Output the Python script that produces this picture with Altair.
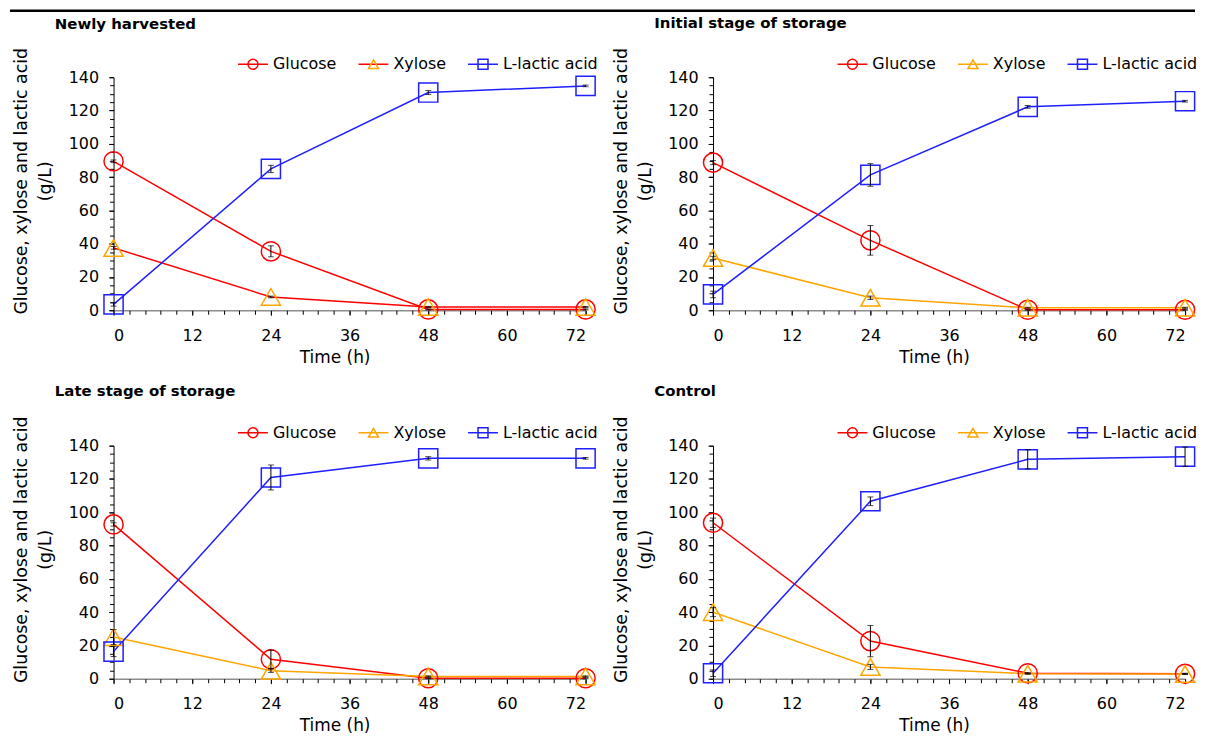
import altair as alt
import pandas as pd

FONT = "DejaVu Sans"

TIMES = [0, 24, 48, 72]
SERIES = ["Glucose", "Xylose", "L-lactic acid"]
MARKER_COLORS = ["#FF0000", "#FFA500", "#1F1FFF"]
MARKER_SHAPES = ["circle", "triangle-up", "square"]

X_MAJOR = [0, 12, 24, 36, 48, 60, 72]
Y_MAJOR = [0, 20, 40, 60, 80, 100, 120, 140]
X_MINOR = [round(i * 2.4, 1) for i in range(31)]
Y_MINOR = list(range(0, 141, 5))

# Newly harvested
NH_GLUCOSE = [89.5, 35.4, 0.5, 0.5]
NH_GLUCOSE_SD = [0.8, 3.3, 0.3, 0.3]
NH_XYLOSE = [37.5, 8.0, 2.0, 2.0]
NH_XYLOSE_SD = [0.8, 0.5, 0.3, 0.3]
NH_LACTIC = [3.5, 84.9, 130.8, 134.8]
NH_LACTIC_SD = [1.0, 2.2, 1.2, 0.5]

# Initial stage of storage
IS_GLUCOSE = [88.7, 42.0, 0.3, 0.3]
IS_GLUCOSE_SD = [1.2, 8.9, 0.3, 0.3]
IS_XYLOSE = [31.4, 7.5, 1.5, 1.5]
IS_XYLOSE_SD = [1.0, 1.0, 0.3, 0.3]
IS_LACTIC = [9.5, 81.3, 122.2, 125.6]
IS_LACTIC_SD = [2.0, 6.8, 0.8, 0.5]

# Late stage of storage
LS_GLUCOSE = [92.7, 11.7, 0.3, 0.3]
LS_GLUCOSE_SD = [1.0, 5.5, 0.3, 0.3]
LS_XYLOSE = [25.0, 4.8, 1.4, 1.4]
LS_XYLOSE_SD = [4.5, 1.0, 0.3, 0.3]
LS_LACTIC = [16.3, 120.9, 132.4, 132.4]
LS_LACTIC_SD = [3.0, 7.5, 1.0, 0.5]

# Control
CT_GLUCOSE = [93.7, 22.6, 3.3, 3.0]
CT_GLUCOSE_SD = [2.8, 9.4, 0.3, 0.3]
CT_XYLOSE = [40.0, 7.1, 3.0, 2.8]
CT_XYLOSE_SD = [2.7, 1.5, 0.3, 0.3]
CT_LACTIC = [3.3, 106.6, 131.8, 133.4]
CT_LACTIC_SD = [2.0, 2.6, 5.8, 5.8]

PANELS = [
    ("Newly harvested", NH_GLUCOSE, NH_GLUCOSE_SD, NH_XYLOSE, NH_XYLOSE_SD, NH_LACTIC, NH_LACTIC_SD,
     ["#FF0000", "#FF0000", "#1F1FFF"]),
    ("Initial stage of storage", IS_GLUCOSE, IS_GLUCOSE_SD, IS_XYLOSE, IS_XYLOSE_SD, IS_LACTIC, IS_LACTIC_SD,
     ["#FF0000", "#FFA500", "#1F1FFF"]),
    ("Late stage of storage", LS_GLUCOSE, LS_GLUCOSE_SD, LS_XYLOSE, LS_XYLOSE_SD, LS_LACTIC, LS_LACTIC_SD,
     ["#FF0000", "#FFA500", "#1F1FFF"]),
    ("Control", CT_GLUCOSE, CT_GLUCOSE_SD, CT_XYLOSE, CT_XYLOSE_SD, CT_LACTIC, CT_LACTIC_SD,
     ["#FF0000", "#FFA500", "#1F1FFF"]),
]

W, H = 474, 234
LEG_X, LEG_Y = 124, -23


def make_panel(name, glc, glc_sd, xyl, xyl_sd, lac, lac_sd, line_colors, first):
    rows = []
    for s, vals, sds in zip(SERIES, [glc, xyl, lac], [glc_sd, xyl_sd, lac_sd]):
        for t, v, e in zip(TIMES, vals, sds):
            rows.append({"time": t, "series": s, "value": v, "lo": v - e, "hi": v + e})
    df = pd.DataFrame(rows)
    base = alt.Chart(df)

    xs = alt.Scale(domain=[0, 72], nice=False, zero=False, padding=0)
    ys = alt.Scale(domain=[0, 140], nice=False, zero=False, padding=0)

    x_axis = alt.Axis(orient="bottom", values=X_MAJOR, title="Time (h)", tickSize=5,
                      labelPadding=12, domainColor="#8c8c8c", domainWidth=1.5,
                      titleX=222, titleY=52, titleBaseline="alphabetic")
    y_axis = alt.Axis(orient="left", values=Y_MAJOR,
                      title=["Glucose, xylose and lactic acid", "(g/L)"],
                      tickSize=5, labelPadding=10, titleX=-83, titleY=104,
                      titleLineHeight=24, titleBaseline="bottom", titleFontSize=17.4)
    x_minor = alt.Axis(orient="bottom", values=X_MINOR, labels=False, domain=False,
                       title=None, tickSize=4, grid=False)
    y_minor = alt.Axis(orient="left", values=Y_MINOR, labels=False, domain=False,
                       title=None, tickSize=4, grid=False)

    stroke_legend = alt.Legend(orient="none", legendX=LEG_X, legendY=LEG_Y, direction="horizontal",
                               title=None, symbolType="stroke", symbolSize=900,
                               symbolStrokeWidth=1.5, labelFont=FONT, labelFontSize=16,
                               labelColor="black", labelOffset=4, columnPadding=21,
                               clipHeight=20, padding=0, labelLimit=300)
    point_legend = alt.Legend(orient="none", legendX=LEG_X, legendY=LEG_Y, direction="horizontal",
                              title=None, symbolSize=100, symbolStrokeWidth=1.5,
                              symbolOffset=8, labelFont=FONT, labelFontSize=16,
                              labelOffset=12, labelOpacity=0, columnPadding=21,
                              clipHeight=20, padding=0, labelLimit=300)

    lines = base.mark_line(strokeWidth=1.5).encode(
        x=alt.X("time:Q", scale=xs, axis=x_axis),
        y=alt.Y("value:Q", scale=ys, axis=y_axis),
        stroke=alt.Stroke("series:N", sort=SERIES, scale=alt.Scale(range=line_colors),
                          legend=stroke_legend),
    )
    points = base.mark_point(filled=False, strokeWidth=1.5, size=370, opacity=1).encode(
        x=alt.X("time:Q", scale=xs, axis=None),
        y=alt.Y("value:Q", scale=ys, axis=None),
        color=alt.Color("series:N", scale=alt.Scale(domain=SERIES, range=MARKER_COLORS),
                        legend=point_legend),
        shape=alt.Shape("series:N", scale=alt.Scale(domain=SERIES, range=MARKER_SHAPES),
                        legend=point_legend),
    )
    err = base.mark_rule(color="black", strokeWidth=1).encode(
        x=alt.X("time:Q", scale=xs, axis=x_minor),
        y=alt.Y("lo:Q", scale=ys, axis=y_minor),
        y2="hi:Q",
    )
    cap_lo = base.mark_tick(color="black", thickness=1, size=6, orient="horizontal").encode(
        x=alt.X("time:Q", scale=xs, axis=None),
        y=alt.Y("lo:Q", scale=ys, axis=None),
    )
    cap_hi = base.mark_tick(color="black", thickness=1, size=6, orient="horizontal").encode(
        x=alt.X("time:Q", scale=xs, axis=None),
        y=alt.Y("hi:Q", scale=ys, axis=None),
    )
    layers = [lines, points, err, cap_lo, cap_hi]
    if first:
        top_rule = alt.Chart(pd.DataFrame({"k": [0]})).mark_rule(
            color="black", strokeWidth=2.5).encode(
            x=alt.value(-104), x2=alt.value(1086), y=alt.value(-66.75))
        layers.append(top_rule)
        title_offset = -35
    else:
        title_offset = 4.8

    return alt.layer(*layers).resolve_axis(x="independent", y="independent").properties(
        width=W, height=H,
        title=alt.TitleParams(text=name, anchor="start", frame="group", dx=-59,
                              font=FONT, fontSize=15, fontWeight="bold", color="black",
                              baseline="alphabetic", offset=title_offset),
    )


panels = [make_panel(*p, first=(i == 0)) for i, p in enumerate(PANELS)]

chart = alt.concat(*panels, columns=2, spacing={"row": 136, "column": 128}, bounds="flush").resolve_scale(
    x="independent", y="independent", stroke="independent", color="independent", shape="independent"
).properties(padding=0).configure(padding=0).configure_view(stroke=None).configure_axis(
    labelFont=FONT, labelFontSize=16, labelColor="black", titleFont=FONT, titleFontSize=17,
    titleFontWeight="normal", titleColor="black", tickColor="black", domainColor="black",
    grid=False, tickWidth=1,
)

chart.save("out.html", embed_options={"renderer": "svg", "actions": False})
